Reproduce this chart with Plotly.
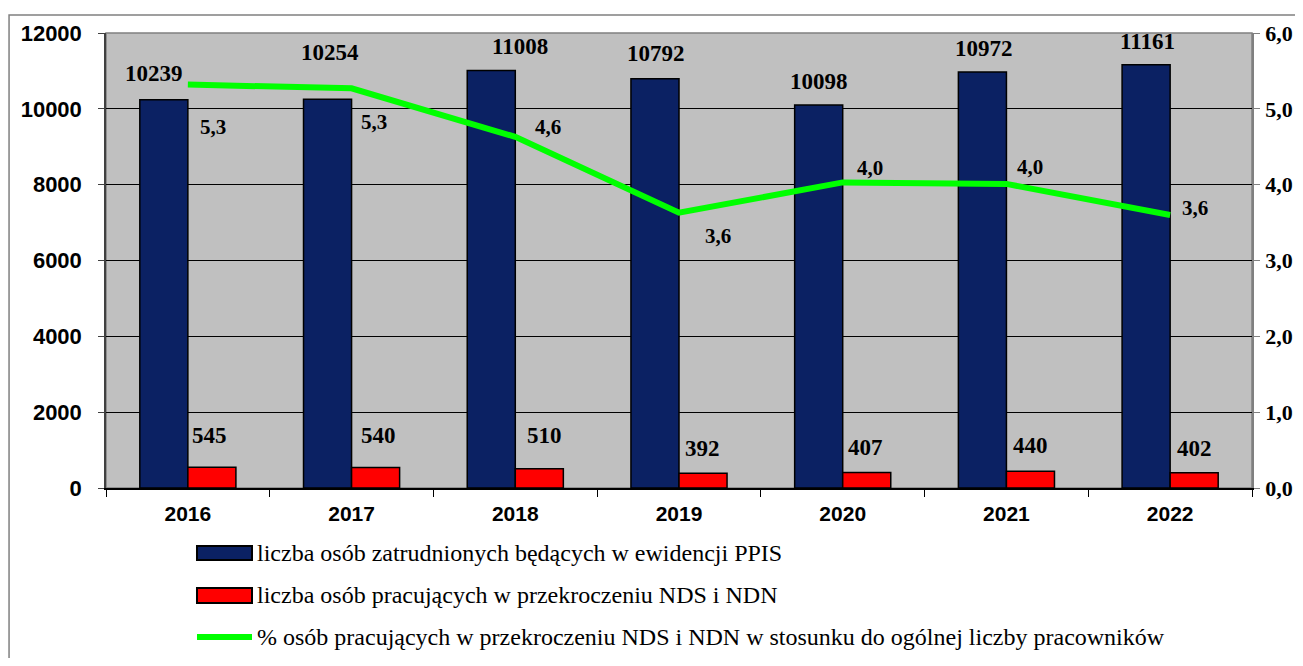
import plotly.graph_objects as go

years = ["2016", "2017", "2018", "2019", "2020", "2021", "2022"]
employed = [10239, 10254, 11008, 10792, 10098, 10972, 11161]
exceeding = [545, 540, 510, 392, 407, 440, 402]
percent = [5.32, 5.27, 4.63, 3.63, 4.03, 4.01, 3.60]

names = [
    "liczba osób zatrudnionych będących w ewidencji PPIS",
    "liczba osób pracujących w przekroczeniu NDS i NDN",
    "% osób pracujących w przekroczeniu NDS i NDN w stosunku do ogólnej liczby pracowników",
]
colors = ["#0B2163", "#FF0000", "#00FF00"]

# label nudges (px) - the labels in the original were dragged around by hand
blue_off = [(-10, 26), (2, 47), (29, 24), (1, 25), (0, 24), (2, 23), (1, 23)]
red_off = [(-2, 32), (3, 32), (5, 33), (-1, 25), (-1, 25), (0, 26), (0, 24)]
line_off = [(25, -42), (22, -34), (33, 10), (39, -23), (27, 14), (24, 17), (25, 7)]
half_bar = 24

serif = "Liberation Serif"
sans = "Liberation Sans"

fig = go.Figure()
fig.add_trace(go.Bar(
    x=years, y=employed, name=names[0],
    marker=dict(color=colors[0], line=dict(color="black", width=1.5)),
))
fig.add_trace(go.Bar(
    x=years, y=exceeding, name=names[1],
    marker=dict(color=colors[1], line=dict(color="black", width=1.5)),
))
fig.add_trace(go.Scatter(
    x=years, y=percent, name=names[2], yaxis="y2",
    mode="lines", line=dict(color=colors[2], width=6),
))

# category axis -> annotations take the category index
lab_font = dict(family=serif, size=23, color="black", weight="bold")
for i in range(len(years)):
    dx, dy = blue_off[i]
    fig.add_annotation(x=i, y=employed[i], text=str(employed[i]), showarrow=False,
                       xshift=-half_bar + dx, yshift=dy, yanchor="middle", font=lab_font)
    dx, dy = red_off[i]
    fig.add_annotation(x=i, y=exceeding[i], text=str(exceeding[i]), showarrow=False,
                       xshift=half_bar + dx, yshift=dy, yanchor="middle", font=lab_font)
    dx, dy = line_off[i]
    fig.add_annotation(x=i, y=percent[i], yref="y2", text=f"{percent[i]:.1f}".replace(".", ","),
                       showarrow=False, xshift=dx, yshift=dy, yanchor="middle",
                       font=dict(family=serif, size=21, color="black", weight="bold"))

# legend drawn by hand: the Excel one has wide flat swatches and big row spacing
key_x0, key_x1, text_x = 0.0794, 0.1274, 0.130
rows = [(-0.1275, -0.1582), (-0.2198, -0.2527), (-0.3275, -0.3275)]
for k in range(3):
    y0, y1 = rows[k]
    if k < 2:
        fig.add_shape(type="rect", xref="paper", yref="paper",
                      x0=key_x0, x1=key_x1, y0=y0, y1=y1,
                      fillcolor=colors[k], line=dict(color="black", width=2))
    else:
        fig.add_shape(type="line", xref="paper", yref="paper",
                      x0=key_x0, x1=key_x1, y0=y0, y1=y1,
                      line=dict(color=colors[k], width=6))
    fig.add_annotation(xref="paper", yref="paper", x=text_x, y=(y0 + y1) / 2,
                       text=names[k], showarrow=False, xanchor="left", yanchor="middle",
                       font=dict(family=serif, size=24, color="black"))

# plot area frame + outer chart frame
fig.add_shape(type="rect", xref="paper", yref="paper", x0=0, x1=1, y0=0, y1=1,
              line=dict(color="#808080", width=1.5), layer="below")
fig.add_shape(type="rect", xref="paper", yref="paper", x0=-0.0846, x1=1.06, y0=-0.42, y1=1.0396,
              line=dict(color="#808080", width=1.5))

fig.update_layout(
    width=1287, height=650,
    barmode="group",
    bargap=0.413,
    bargroupgap=0,
    separators=", ",
    plot_bgcolor="#C0C0C0",
    paper_bgcolor="white",
    margin=dict(l=98, r=43, t=25, b=170),
    showlegend=False,
    xaxis=dict(
        type="category", range=[-0.5, 6.5], automargin=False,
        showline=True, linecolor="black", linewidth=1.5,
        ticks="outside", tickson="boundaries", ticklen=7, tickcolor="black",
        ticklabelstandoff=6,
        tickfont=dict(family=sans, size=21, color="black", weight="bold"),
    ),
    yaxis=dict(
        range=[0, 12000], dtick=2000, tickformat="d", automargin=False,
        showgrid=True, gridcolor="black", gridwidth=1, zeroline=False,
        showline=True, linecolor="#404040", linewidth=1.5,
        ticks="outside", ticklen=6, tickcolor="#404040",
        ticklabelstandoff=12,
        tickfont=dict(family=sans, size=22, color="black", weight="bold"),
    ),
    yaxis2=dict(
        overlaying="y", side="right", range=[0, 6], dtick=1, tickformat=".1f",
        automargin=False, showgrid=False, zeroline=False,
        showline=True, linecolor="#808080", linewidth=1.5,
        ticks="outside", ticklen=6, tickcolor="#808080",
        ticklabelstandoff=1,
        tickfont=dict(family=serif, size=22, color="black", weight="bold"),
    ),
)

fig.write_html("out.html")
